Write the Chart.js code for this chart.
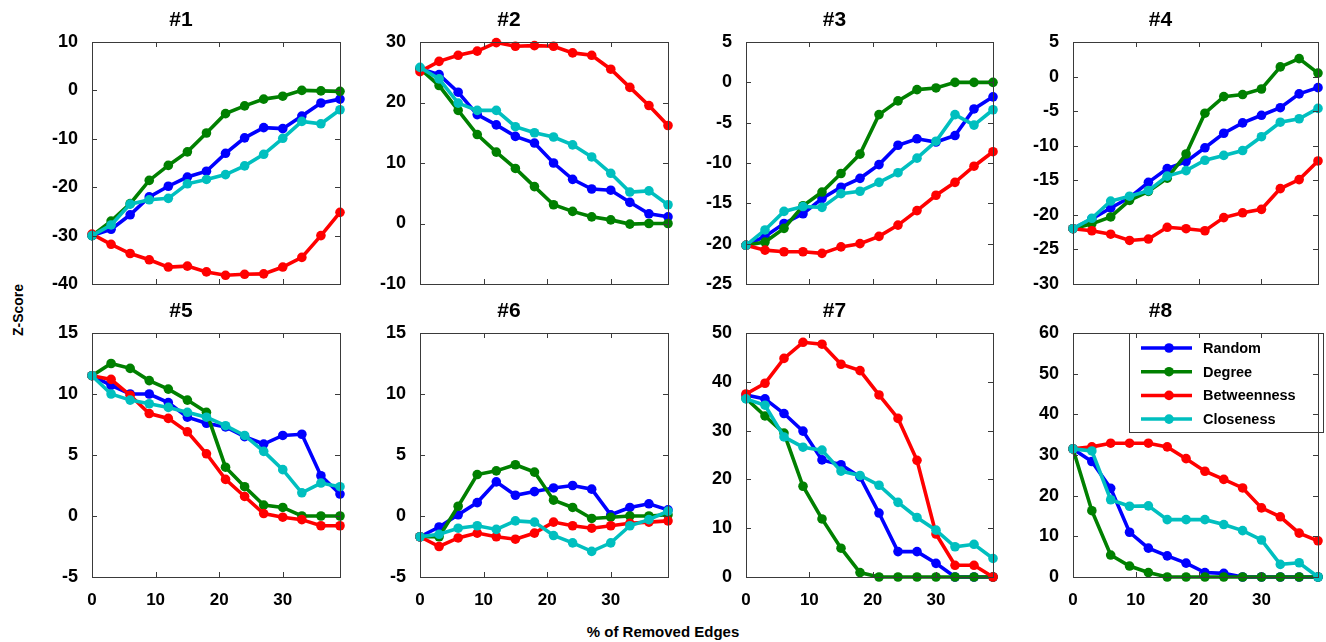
<!DOCTYPE html>
<html>
<head>
<meta charset="utf-8">
<script src="https://cdn.jsdelivr.net/npm/chart.js@4.4.1/dist/chart.umd.min.js"></script>
<style>
  html, body { margin:0; padding:0; background:#fff; }
  body { width:1326px; height:642px; position:relative; overflow:hidden; font-family:"Liberation Sans", Arial, sans-serif; }
  canvas { position:absolute; }
  .lab { position:absolute; font-weight:bold; color:#000; white-space:nowrap; }
</style>
</head>
<body>
<div class="lab" id="ylab" style="font-size:14px; left:18px; top:310px; transform:translate(-50%,-50%) rotate(-90deg);">Z-Score</div>
<div class="lab" id="xlab" style="font-size:15px; left:663px; top:631px; transform:translate(-50%,-50%);">% of Removed Edges</div>
<script>
// ---- data ----
const removedPct = [0, 3, 6, 9, 12, 15, 18, 21, 24, 27, 30, 33, 36, 39];
const seriesNames = ["Random", "Degree", "Betweenness", "Closeness"];
const panelTitles = ["#1", "#2", "#3", "#4", "#5", "#6", "#7", "#8"];
const yMins  = [-40, -10, -25, -30, -5, -5, 0, 0];
const yMaxs  = [10, 30, 5, 5, 15, 15, 50, 60];
const ySteps = [10, 10, 5, 5, 5, 5, 10, 10];
const xTickStep = 10;

const p1Random      = [-30, -28.7, -25.7, -22, -19.8, -17.9, -16.7, -13, -9.8, -7.7, -7.9, -5.3, -2.6, -1.8];
const p1Degree      = [-30, -27, -23.4, -18.6, -15.5, -12.7, -8.8, -4.8, -3.2, -1.8, -1.2, 0, -0.1, -0.2];
const p1Betweenness = [-29.7, -31.8, -33.7, -35, -36.5, -36.3, -37.5, -38.2, -38, -37.9, -36.5, -34.5, -30, -25.2];
const p1Closeness   = [-30, -27.8, -23.5, -22.6, -22.3, -19.3, -18.4, -17.4, -15.6, -13.2, -9.9, -6.4, -6.9, -4];

const p2Random      = [25.6, 24.6, 21.7, 18, 16.3, 14.4, 13.3, 10, 7.3, 5.7, 5.5, 3.5, 1.6, 1.1];
const p2Degree      = [25.6, 22.8, 18.7, 14.7, 11.8, 9.1, 6.1, 3.1, 2, 1.1, 0.6, -0.1, 0, 0];
const p2Betweenness = [25.1, 26.8, 27.8, 28.5, 29.9, 29.3, 29.4, 29.3, 28.2, 27.8, 25.5, 22.5, 19.5, 16.2];
const p2Closeness   = [25.8, 23.9, 19.9, 18.7, 18.7, 16, 15, 14.3, 13, 11, 8.3, 5.2, 5.4, 3.1];

const p3Random      = [-20.2, -19.1, -17.5, -16.3, -14.4, -13, -11.9, -10.2, -7.8, -7, -7.4, -6.6, -3.3, -1.8];
const p3Degree      = [-20.2, -19.8, -18.1, -15.3, -13.6, -11.3, -8.9, -4, -2.3, -0.9, -0.7, 0, 0, 0];
const p3Betweenness = [-20.2, -20.8, -21, -21, -21.2, -20.4, -20, -19.1, -17.7, -15.9, -14, -12.4, -10.4, -8.6];
const p3Closeness   = [-20.2, -18.3, -16, -15.4, -15.5, -13.8, -13.5, -12.4, -11.2, -9.4, -7.3, -4, -5.3, -3.4];

const p4Random      = [-22, -20.6, -19, -17.5, -15.3, -13.3, -12.3, -10.3, -8.2, -6.7, -5.6, -4.5, -2.5, -1.6];
const p4Degree      = [-22, -21.3, -20.3, -17.9, -16.6, -14.7, -11.2, -5.3, -2.9, -2.6, -1.8, 1.4, 2.6, 0.5];
const p4Betweenness = [-22, -22.3, -22.8, -23.7, -23.5, -21.8, -22, -22.3, -20.4, -19.7, -19.2, -16.2, -14.9, -12.2];
const p4Closeness   = [-22, -20.5, -18, -17.3, -16.5, -14.4, -13.6, -12.1, -11.4, -10.7, -8.7, -6.6, -6.1, -4.6];

const p5Random      = [11.5, 10.7, 10, 10, 9.3, 8.1, 7.6, 7.3, 6.5, 5.9, 6.6, 6.7, 3.3, 1.8];
const p5Degree      = [11.5, 12.5, 12.1, 11.1, 10.4, 9.5, 8.5, 4, 2.4, 0.9, 0.7, 0, 0, 0];
const p5Betweenness = [11.5, 11.2, 9.9, 8.4, 8, 6.9, 5.1, 3, 1.6, 0.2, -0.1, -0.3, -0.8, -0.8];
const p5Closeness   = [11.5, 10, 9.5, 9.2, 8.9, 8.5, 8.1, 7.4, 6.6, 5.3, 3.8, 1.9, 2.7, 2.4];

const p6Random      = [-1.7, -0.9, 0.1, 1.1, 2.8, 1.7, 2, 2.3, 2.5, 2.2, 0.1, 0.7, 1, 0.5];
const p6Degree      = [-1.7, -1.7, 0.8, 3.4, 3.7, 4.2, 3.6, 1.3, 0.7, -0.2, -0.1, 0, 0, 0.1];
const p6Betweenness = [-1.7, -2.5, -1.8, -1.4, -1.7, -1.9, -1.4, -0.5, -0.8, -1, -0.8, -0.6, -0.5, -0.4];
const p6Closeness   = [-1.7, -1.5, -1, -0.8, -1.1, -0.4, -0.5, -1.6, -2.2, -2.9, -2.2, -0.8, -0.3, 0.4];

const p7Random      = [37.3, 36.5, 33.5, 29.9, 24, 23, 20.5, 13.1, 5.2, 5.2, 2.8, 0, 0, 0];
const p7Degree      = [36.6, 33, 29.5, 18.6, 11.9, 5.9, 0.9, 0, 0, 0, 0, 0, 0, 0];
const p7Betweenness = [37.5, 39.7, 44.8, 48.1, 47.7, 43.6, 42.3, 37.3, 32.5, 23.9, 8.8, 2.4, 2.4, 0];
const p7Closeness   = [36.5, 35.2, 28.7, 26.6, 26, 21.7, 20.8, 18.8, 15.3, 12.2, 9.6, 6.2, 6.7, 3.8];

const p8Random      = [31.5, 28.4, 21.8, 11, 7.1, 5.2, 3.4, 1.1, 0.9, 0, 0, 0, 0, 0];
const p8Degree      = [31.5, 16.3, 5.4, 2.7, 1.1, 0, 0, 0, 0, 0, 0, 0, 0, 0];
const p8Betweenness = [31.5, 32, 32.9, 32.9, 32.9, 32, 29.1, 26, 24, 21.9, 17, 14.8, 10.8, 8.9];
const p8Closeness   = [31.5, 31, 19, 17.4, 17.5, 14.1, 14.1, 14.1, 12.9, 11.4, 9.1, 3.1, 3.5, 0];

const panelData = [
  [p1Random, p1Degree, p1Betweenness, p1Closeness],
  [p2Random, p2Degree, p2Betweenness, p2Closeness],
  [p3Random, p3Degree, p3Betweenness, p3Closeness],
  [p4Random, p4Degree, p4Betweenness, p4Closeness],
  [p5Random, p5Degree, p5Betweenness, p5Closeness],
  [p6Random, p6Degree, p6Betweenness, p6Closeness],
  [p7Random, p7Degree, p7Betweenness, p7Closeness],
  [p8Random, p8Degree, p8Betweenness, p8Closeness]
];

// ---- styles / layout ----
const seriesColors = ["#0000FF", "#008000", "#FF0000", "#00BFBF"];
const drawOrder = [4, 3, 2, 1];
const colLeft  = [92, 420, 746, 1073];
const colWidth = [248, 248, 247, 245];
const rowTop    = [42, 333];
const rowHeight = [242, 244];
const AXW = 70, PADR = 10, TITLEH = 42, XAXH = 40;
const FONT = "'Liberation Sans', Arial, sans-serif";
const TITLE_SIZE = 21;

const framePlugin = {
  id: 'frame',
  afterDraw(chart) {
    const a = chart.chartArea, ctx = chart.ctx;
    const xs = chart.scales.x, ys = chart.scales.y;
    ctx.save();
    ctx.strokeStyle = '#3a3a3a';
    ctx.lineWidth = 1;
    ctx.beginPath();
    xs.ticks.forEach(t => {
      const p = Math.round(xs.getPixelForValue(t.value)) + 0.5;
      ctx.moveTo(p, a.bottom); ctx.lineTo(p, a.bottom - 5);
      ctx.moveTo(p, a.top); ctx.lineTo(p, a.top + 5);
    });
    ys.ticks.forEach(t => {
      const p = Math.round(ys.getPixelForValue(t.value)) + 0.5;
      ctx.moveTo(a.left, p); ctx.lineTo(a.left + 5, p);
      ctx.moveTo(a.right, p); ctx.lineTo(a.right - 5, p);
    });
    ctx.stroke();
    ctx.strokeRect(Math.round(a.left) + 0.5, Math.round(a.top) + 0.5, Math.round(a.right - a.left), Math.round(a.bottom - a.top));
    ctx.restore();
  }
};

const legendPlugin = {
  id: 'boxLegend',
  afterDatasetsDraw(chart, args, opts) {
    if (!opts.show) return;
    const a = chart.chartArea, ctx = chart.ctx;
    const x0 = a.left + 56, y0 = a.top, x1 = a.right + 5, y1 = a.top + 99;
    ctx.save();
    ctx.fillStyle = '#fff';
    ctx.fillRect(x0, y0, x1 - x0, y1 - y0);
    ctx.strokeStyle = '#3a3a3a';
    ctx.lineWidth = 1;
    ctx.strokeRect(Math.round(x0) + 0.5, Math.round(y0) + 0.5, Math.round(x1 - x0), Math.round(y1 - y0));
    ctx.font = "bold 14.5px " + FONT;
    ctx.textBaseline = 'middle';
    chart.data.datasets.forEach((ds, i) => {
      const yy = y0 + 15 + i * 23.7;
      ctx.strokeStyle = ds.borderColor;
      ctx.lineWidth = 3.5;
      ctx.beginPath();
      ctx.moveTo(x0 + 12, yy); ctx.lineTo(x0 + 63, yy);
      ctx.stroke();
      ctx.fillStyle = ds.borderColor;
      ctx.beginPath();
      ctx.arc(x0 + 40, yy, 4.8, 0, Math.PI * 2);
      ctx.fill();
      ctx.fillStyle = '#000';
      ctx.fillText(ds.label, x0 + 74, yy + 1);
    });
    ctx.restore();
  }
};

panelData.forEach((series, idx) => {
  const row = Math.floor(idx / 4), col = idx % 4;
  const canvas = document.createElement('canvas');
  const w = AXW + colWidth[col] + PADR;
  const h = TITLEH + rowHeight[row] + XAXH;
  canvas.width = w; canvas.height = h;
  canvas.style.left = (colLeft[col] - AXW) + 'px';
  canvas.style.top = (rowTop[row] - TITLEH) + 'px';
  canvas.style.width = w + 'px'; canvas.style.height = h + 'px';
  document.body.appendChild(canvas);

  const datasets = series.map((vals, si) => ({
    label: seriesNames[si],
    data: vals.map((v, k) => ({ x: removedPct[k], y: v })),
    borderColor: seriesColors[si],
    backgroundColor: seriesColors[si],
    pointBackgroundColor: seriesColors[si],
    pointBorderColor: seriesColors[si],
    borderWidth: 3.6,
    pointRadius: 4.8,
    pointBorderWidth: 0,
    tension: 0,
    clip: false,
    order: drawOrder[si]
  }));

  const titleLH = TITLE_SIZE * 1.2;
  const titleTop = 20.5 - titleLH / 2;

  new Chart(canvas, {
    type: 'line',
    data: { datasets },
    options: {
      responsive: false,
      animation: false,
      devicePixelRatio: 1,
      events: [],
      layout: { padding: { left: 0, right: PADR, top: 0, bottom: 0 } },
      plugins: {
        legend: { display: false },
        tooltip: { enabled: false },
        title: {
          display: true,
          text: panelTitles[idx],
          color: '#000',
          font: { family: FONT, size: TITLE_SIZE, weight: 'bold', lineHeight: 1.2 },
          padding: { top: titleTop, bottom: TITLEH - titleTop - titleLH }
        },
        boxLegend: { show: idx === 7 }
      },
      scales: {
        x: {
          type: 'linear',
          min: removedPct[0],
          max: removedPct[removedPct.length - 1],
          grid: { display: false },
          border: { display: false },
          ticks: {
            stepSize: xTickStep,
            includeBounds: false,
            autoSkip: false,
            maxRotation: 0,
            padding: 5,
            color: '#000',
            font: { family: FONT, size: 17, weight: 'bold' },
            callback: (v) => row === 1 ? String(v) : ''
          },
          afterFit(scale) { scale.height = XAXH; }
        },
        y: {
          type: 'linear',
          min: yMins[idx],
          max: yMaxs[idx],
          grid: { display: false },
          border: { display: false },
          ticks: {
            stepSize: ySteps[idx],
            autoSkip: false,
            padding: 6,
            color: '#000',
            font: { family: FONT, size: 18, weight: 'bold' }
          },
          afterFit(scale) { scale.width = AXW; }
        }
      }
    },
    plugins: [framePlugin, legendPlugin]
  });
});
</script>
</body>
</html>
